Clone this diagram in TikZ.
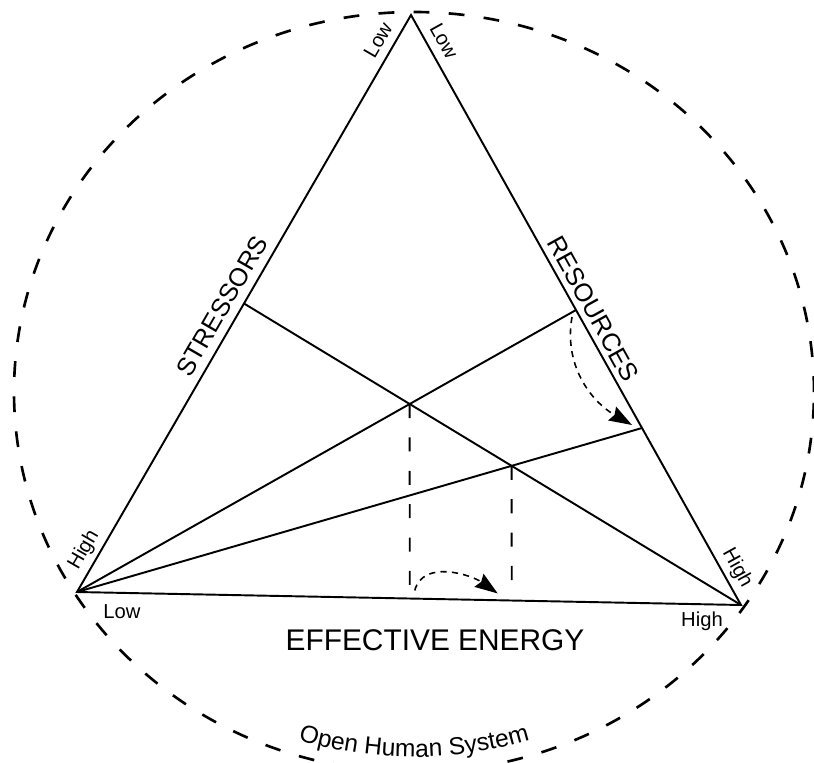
\documentclass[tikz,border=0pt]{standalone}
\usepackage{fontspec}
\setmainfont{Liberation Sans}
\usetikzlibrary{arrows.meta,calc,decorations.text}

\begin{document}
\begin{tikzpicture}[x=0.02cm, y=0.02cm,
    edge/.style={line width=1.1pt},
    drop/.style={line width=1.1pt, dash pattern=on 8pt off 11pt},
    shift arrow/.style={line width=0.9pt, dash pattern=on 3.5pt off 3pt,
        -{Stealth[length=13pt, width=9pt, inset=1.5pt]}},
    small/.style={font=\fontsize{11.5}{13}\selectfont},
    side/.style={font=\fontsize{14.5}{17}\selectfont}]
    \useasboundingbox (0,0) rectangle (814,762);

    % System boundary
    \coordinate (Centre) at (414,370);
    \draw[line width=1.5pt, dash pattern=on 9pt off 11pt] (Centre) ellipse [x radius=400, y radius=380];

    % Triangle corners
    \coordinate (Top) at (411,747);
    \coordinate (Left) at (77,170);
    \coordinate (Right) at (741,157);
    \coordinate (StressMid) at ($(Top)!0.5!(Left)$);
    \coordinate (ResUp) at ($(Top)!0.5!(Right)$);
    \coordinate (ResDown) at ($(Top)!0.7!(Right)$);

    % Triangle and inner lines
    \draw[edge] (Left) -- (Top) -- (Right) -- cycle;
    \draw[edge] (Left) -- (ResUp);
    \draw[edge] (Left) -- (ResDown);
    \draw[edge] (StressMid) -- (Right);

    % Crossings dropped onto the energy side
    \coordinate (CrossA) at (intersection of Left--ResUp and StressMid--Right);
    \coordinate (CrossB) at (intersection of Left--ResDown and StressMid--Right);
    \coordinate (CrossAdown) at ($(CrossA)+(0,-10)$);
    \coordinate (CrossBdown) at ($(CrossB)+(0,-10)$);
    \coordinate (FootA) at (intersection of CrossA--CrossAdown and Left--Right);
    \coordinate (FootB) at (intersection of CrossB--CrossBdown and Left--Right);
    \coordinate (FootBend) at ($(CrossB)!0.9!(FootB)$);
    \draw[drop] (CrossA) -- (FootA);
    \draw[drop] (CrossB) -- (FootBend);

    % Shifts
    \coordinate (EnergyFrom) at ($(FootA)+(5,8)$);
    \coordinate (EnergyTo) at ($(FootB)+(-14,7)$);
    \draw[shift arrow] (EnergyFrom) to[out=75, in=145] (EnergyTo);
    \coordinate (ResFrom) at ($(ResUp)+(-4,-7)$);
    \coordinate (ResTo) at ($(ResDown)+(-10,3)$);
    \draw[shift arrow] (ResFrom) to[out=260, in=150] (ResTo);

    % Labels
    \node[small, rotate=60] (LowStress) at (378,722) {Low};
    \node[small, rotate=-61] (LowRes) at (444,721) {Low};
    \node[side, rotate=60] (Stressors) at (222,456) {STRESSORS};
    \node[side, rotate=-61] (Resources) at (593,453) {RESOURCES};
    \node[small, rotate=60] (HighStress) at (84,212) {High};
    \node[small] (LowEnergy) at (122,150) {Low};
    \node[small, rotate=-61] (HighRes) at (737,194) {High};
    \node[small] (HighEnergy) at (702,141) {High};
    \node[font=\fontsize{17}{20}\selectfont] (Energy) at (435,122) {EFFECTIVE ENERGY};
    \path[decorate, decoration={text along path, text align=center,
        text={|\fontsize{14}{16}\selectfont|Open Human System}}]
        (Centre) ++(-118:385 and 365) arc[start angle=-118, end angle=-62, x radius=385, y radius=365];
\end{tikzpicture}
\end{document}
